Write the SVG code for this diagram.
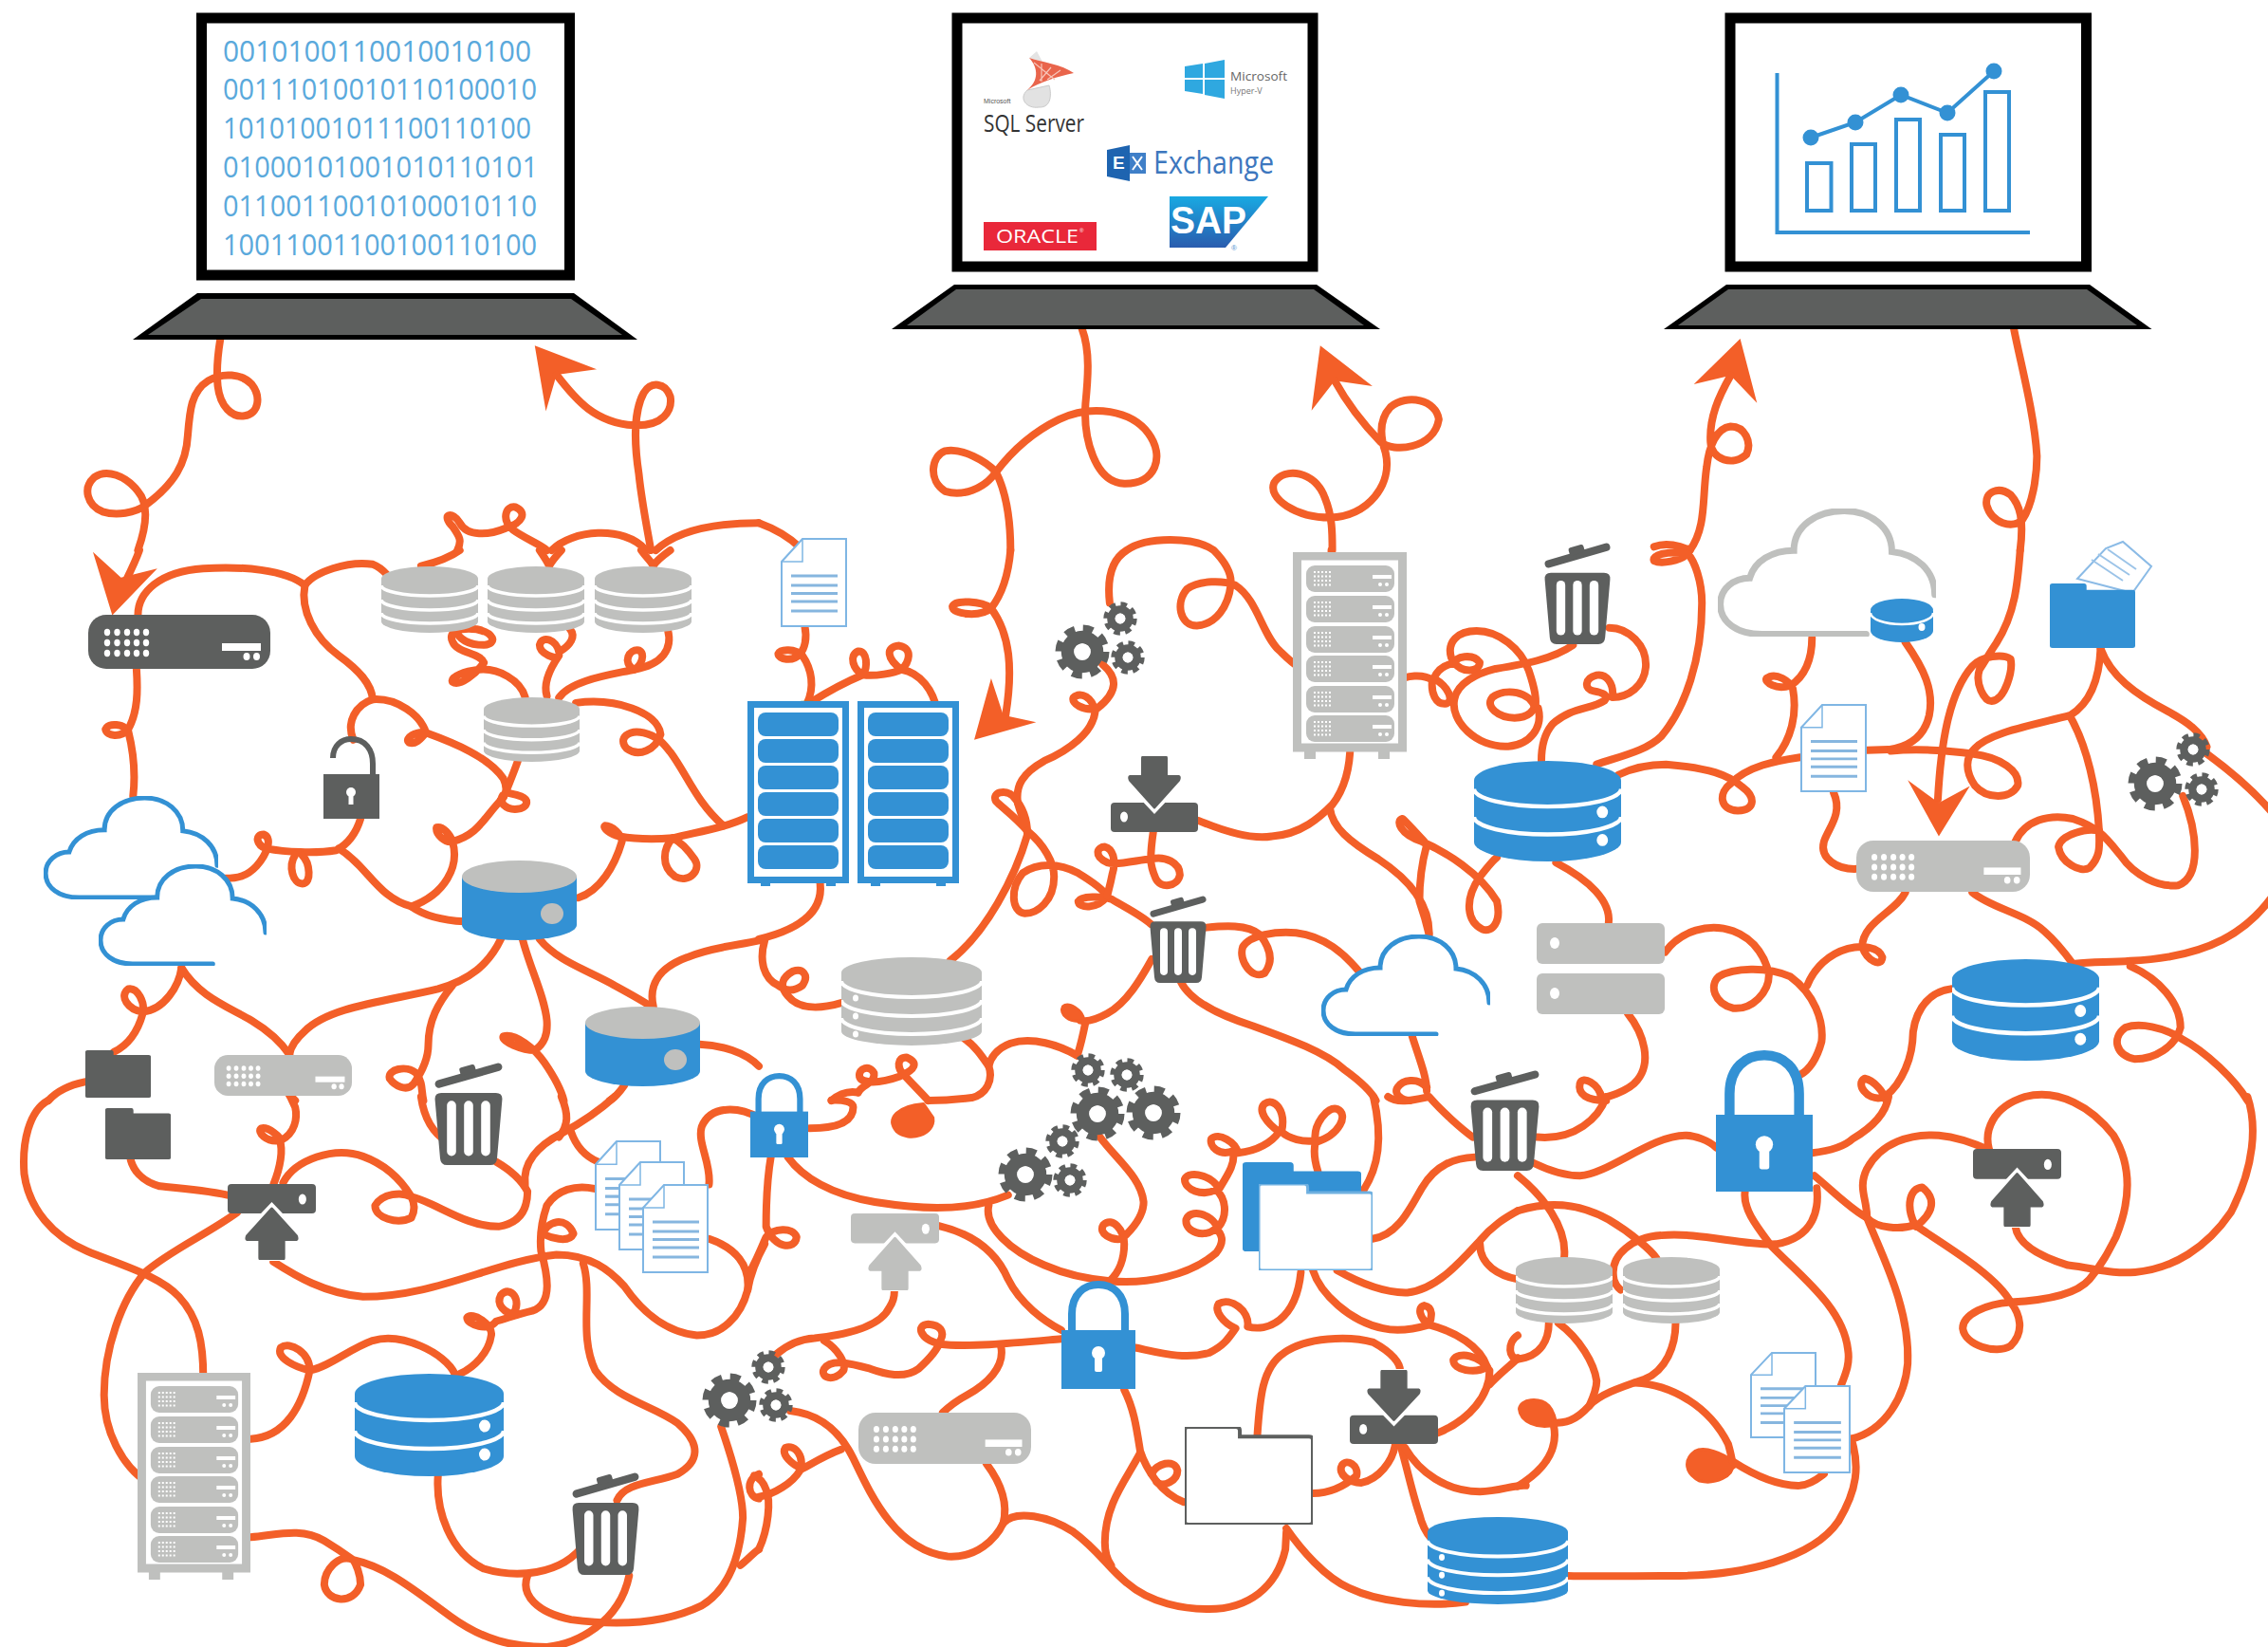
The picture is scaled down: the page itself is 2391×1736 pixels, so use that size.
<svg xmlns="http://www.w3.org/2000/svg" width="2391" height="1736" viewBox="0 0 2391 1736">
<style>
.blue{color:#3391d4;fill:#3391d4}.gray{color:#bfc0be;fill:#bfc0be}.dark{color:#5d5f5e;fill:#5d5f5e}
.c path{fill:none;stroke:#f35f28;stroke-width:8;vector-effect:non-scaling-stroke;stroke-linecap:round;stroke-linejoin:round}
.c polygon,.c path.f{fill:#f35f28;stroke:none}
.c path.f{stroke:#f35f28;stroke-width:3}
.ns{vector-effect:non-scaling-stroke}
.bin{font:31px "Open Sans","Liberation Sans",sans-serif;fill:#5aa9dc}
.scr{fill:#fff;stroke:#000;stroke-width:11}
.cl{fill:#fff;stroke:#3391d4;stroke-width:5;stroke-linecap:round}
.ln{stroke:#3391d4;stroke-width:4;fill:none}
</style>
<defs>
<symbol id="switch" viewBox="0 0 192 57" preserveAspectRatio="none"><rect width="192" height="57" rx="19" fill="currentColor"/><g fill="#fff"><ellipse cx="20" cy="18.500" rx="3.200" ry="3.700"/><ellipse cx="30.500" cy="18.500" rx="3.200" ry="3.700"/><ellipse cx="41" cy="18.500" rx="3.200" ry="3.700"/><ellipse cx="51" cy="18.500" rx="3.200" ry="3.700"/><ellipse cx="61" cy="18.500" rx="3.200" ry="3.700"/><ellipse cx="20" cy="29.500" rx="3.200" ry="3.700"/><ellipse cx="30.500" cy="29.500" rx="3.200" ry="3.700"/><ellipse cx="41" cy="29.500" rx="3.200" ry="3.700"/><ellipse cx="51" cy="29.500" rx="3.200" ry="3.700"/><ellipse cx="61" cy="29.500" rx="3.200" ry="3.700"/><ellipse cx="20" cy="40.500" rx="3.200" ry="3.700"/><ellipse cx="30.500" cy="40.500" rx="3.200" ry="3.700"/><ellipse cx="41" cy="40.500" rx="3.200" ry="3.700"/><ellipse cx="51" cy="40.500" rx="3.200" ry="3.700"/><ellipse cx="61" cy="40.500" rx="3.200" ry="3.700"/><rect x="141" y="30" width="41" height="8"/><ellipse cx="167" cy="44" rx="3.500" ry="4"/><ellipse cx="177.500" cy="44" rx="3.500" ry="4"/></g></symbol>
<symbol id="db4" viewBox="0 0 102 70" preserveAspectRatio="none"><path d="M0 13A51 13 0 0 1 102 13V58A51 12 0 0 1 0 58Z" fill="currentColor"/><path d="M0 20A51 11 0 0 0 102 20M0 35A51 11 0 0 0 102 35M0 49A51 11 0 0 0 102 49" fill="none" stroke="#fff" stroke-width="3.500"/></symbol>
<symbol id="db4big" viewBox="0 0 148 93" preserveAspectRatio="none"><path d="M0 16A74 16 0 0 1 148 16V78A74 15 0 0 1 0 78Z" fill="currentColor"/><path d="M0 25A74 17 0 0 0 148 25M0 45A74 17 0 0 0 148 45M0 64A74 17 0 0 0 148 64" fill="none" stroke="#fff" stroke-width="4"/><ellipse cx="15" cy="43" rx="3" ry="3.500" fill="#fff"/><ellipse cx="15" cy="62" rx="3" ry="3.500" fill="#fff"/><ellipse cx="15" cy="81" rx="3" ry="3.500" fill="#fff"/></symbol>
<symbol id="db3" viewBox="0 0 157 108" preserveAspectRatio="none"><path d="M0 21A78.500 21 0 0 1 157 21V87A78.500 21 0 0 1 0 87Z" fill="currentColor"/><path d="M0 30A78.500 19 0 0 0 157 30M0 60A78.500 19 0 0 0 157 60" fill="none" stroke="#fff" stroke-width="4.500"/><ellipse cx="137" cy="55" rx="6" ry="6.500" fill="#fff"/><ellipse cx="137" cy="85" rx="6" ry="6.500" fill="#fff"/></symbol>
<symbol id="cyl" viewBox="0 0 121 84" preserveAspectRatio="none"><path d="M0 17V68A60.500 16 0 0 0 121 68V17Z" fill="#3391d4"/><ellipse cx="60.500" cy="17" rx="60.500" ry="17" fill="#bfc0be"/><ellipse cx="95" cy="56" rx="12" ry="11" fill="#bfc0be"/></symbol>
<symbol id="rack" viewBox="0 0 120 218" preserveAspectRatio="none"><rect x="12" y="207" width="12" height="11" fill="currentColor"/><rect x="90" y="207" width="12" height="11" fill="currentColor"/><rect x="4.500" y="4" width="111" height="202" fill="#fff" stroke="currentColor" stroke-width="9"/><g id="ru"><rect x="14" y="14" width="93" height="28" rx="9" fill="currentColor"/><path d="M22 21h20M22 25.500h20M22 30h20M22 34.500h20" stroke="#fff" stroke-width="2" stroke-dasharray="2 2"/><rect x="84" y="24" width="20" height="4" fill="#fff"/><circle cx="92" cy="34" r="2" fill="#fff"/><circle cx="99" cy="34" r="2" fill="#fff"/></g><use href="#ru" y="32"/><use href="#ru" y="64"/><use href="#ru" y="95"/><use href="#ru" y="127"/><use href="#ru" y="158"/></symbol>
<symbol id="rackb" viewBox="0 0 107 195" preserveAspectRatio="none"><rect x="14" y="188" width="10" height="7" fill="currentColor"/><rect x="83" y="188" width="10" height="7" fill="currentColor"/><rect x="3.500" y="3.500" width="100" height="185" fill="#fff" stroke="currentColor" stroke-width="7"/><rect x="11" y="12" width="85" height="25" rx="8" fill="currentColor"/><rect x="11" y="40" width="85" height="25" rx="8" fill="currentColor"/><rect x="11" y="68" width="85" height="25" rx="8" fill="currentColor"/><rect x="11" y="96" width="85" height="25" rx="8" fill="currentColor"/><rect x="11" y="124" width="85" height="25" rx="8" fill="currentColor"/><rect x="11" y="152" width="85" height="25" rx="8" fill="currentColor"/></symbol>
<symbol id="trash" viewBox="0 0 60 91" preserveAspectRatio="none"><path d="M4 19 56 4" stroke="currentColor" stroke-width="7" stroke-linecap="round" fill="none"/><rect x="22" y="3" width="14" height="7" rx="2" transform="rotate(-16 29 6)" fill="currentColor"/><path d="M6 27H54Q60 27 59.500 33L55 85Q54.500 91 49 91H11Q5.500 91 5 85L.5 33Q0 27 6 27Z" fill="currentColor"/><rect x="11" y="34" width="8" height="49" rx="4" fill="#fff"/><rect x="26" y="34" width="8" height="49" rx="4" fill="#fff"/><rect x="41" y="34" width="8" height="49" rx="4" fill="#fff"/></symbol>
<symbol id="lock" viewBox="0 0 78 114" preserveAspectRatio="none"><path d="M11 54V35C11 14 24 4 39 4C54 4 67 14 67 35V54" fill="none" stroke="currentColor" stroke-width="8"/><rect y="52" width="78" height="62" fill="currentColor"/><circle cx="39" cy="76" r="7" fill="#fff"/><rect x="35" y="76" width="8" height="20" rx="2" fill="#fff"/></symbol>
<symbol id="imp" viewBox="0 0 92 81" preserveAspectRatio="none"><rect y="50" width="92" height="31" rx="4" fill="currentColor"/><path d="M46 62 14 28V21H30V0H62V21H78V28Z" fill="#fff"/><path d="M33 1H59Q60 1 60 3V21H72Q75 22 73 27L47 56Q46 57 45 56L19 27Q17 22 20 21H32V3Q32 1 33 1Z" fill="currentColor"/><ellipse cx="14" cy="65" rx="4" ry="5.500" fill="#fff"/></symbol>
<symbol id="gear" viewBox="-30 -30 60 60"><circle r="25" fill="none" stroke="currentColor" stroke-width="9" stroke-dasharray="10.800 8.835"/><circle r="16" fill="#fff" stroke="currentColor" stroke-width="14"/><circle r="9" fill="#fff"/></symbol>
<symbol id="folder" viewBox="0 0 100 100" preserveAspectRatio="none"><path class="ns" d="M0 3Q0 0 3 0H40Q43 0 43 4V10H97Q100 10 100 13V97Q100 100 97 100H3Q0 100 0 97Z"/></symbol>
<symbol id="doc" viewBox="0 0 70 94" preserveAspectRatio="none"><path d="M23 1H69V93H1V25Z" fill="#fff" stroke="#7fb6e4" stroke-width="2"/><path d="M23 1V25H1" fill="none" stroke="#7fb6e4" stroke-width="1.500"/><path d="M11 40H60M11 50H60M11 58.500H60M11 67H60M11 77H60" stroke="#86b6df" stroke-width="3"/></symbol>
<symbol id="box2" viewBox="0 0 135 43" preserveAspectRatio="none"><rect width="135" height="43" rx="6" fill="currentColor"/><ellipse cx="19" cy="21" rx="5" ry="6" fill="#fff"/></symbol>
<symbol id="cloud" viewBox="0 0 178 107" preserveAspectRatio="none"><path class="ns" d="M121 105H36C16 105 2 95 2 80C2 67 13 58 26 58C30 44 44 35 62 35C62 15 80 2 103 2C125 2 142 16 142 36C162 38 177 52 177 72"/></symbol>
<linearGradient id="sg" x1="0" y1="0" x2="0" y2="1"><stop offset="0" stop-color="#19a9e2"/><stop offset="1" stop-color="#2a5cae"/></linearGradient>
</defs>
<rect width="2391" height="1736" fill="#fff"/>
<g id="connectors" class="c">
<g transform="translate(0 0) scale(.5102 .3699)">
<path d="M455,968 C450,1010 447,1060 450,1100 C455,1160 480,1190 505,1185 C535,1180 540,1130 520,1095 C500,1065 460,1060 430,1085 C395,1115 392,1170 388,1240 C385,1320 360,1380 300,1440 C280,1462 240,1470 212,1458 C180,1440 170,1390 195,1360 C220,1335 260,1355 285,1400 C310,1440 300,1510 285,1568"/>
<polygon points="1105,985 1233,1052 1150,1068 1128,1172"/>
<path d="M1150,1068 C1190,1140 1230,1205 1310,1212 C1370,1215 1390,1170 1385,1130 C1375,1090 1345,1085 1330,1120 C1310,1170 1310,1260 1320,1350 C1325,1420 1335,1490 1345,1568"/>
<path d="M945,1568 C955,1540 950,1530 935,1500 C910,1465 935,1455 950,1490 C965,1530 1010,1525 1045,1505 C1080,1490 1090,1460 1065,1445 C1045,1440 1035,1480 1060,1510 C1085,1535 1115,1550 1130,1568"/>
<path d="M1140,1568 C1180,1510 1290,1495 1335,1568"/>
<path d="M1355,1568 C1400,1510 1480,1490 1568,1490"/>
</g>
<g transform="translate(800 0) scale(.5102 .3699)">
<path d="M0,1490 C40,1510 70,1540 85,1560"/>
<path d="M668,938 C685,1000 680,1080 675,1150 C670,1250 695,1375 755,1378 C820,1380 840,1300 805,1235 C770,1170 690,1150 620,1195 C560,1235 520,1290 490,1345 C465,1395 420,1415 385,1400 C350,1370 355,1300 385,1285 C420,1275 470,1315 490,1345 C510,1400 520,1470 520,1568"/>
<polygon points="1160,985 1268,1100 1190,1085 1142,1170"/>
<path d="M1190,1085 C1220,1160 1250,1210 1285,1260 C1310,1290 1395,1280 1405,1195 C1400,1140 1340,1120 1305,1160 C1285,1190 1280,1230 1295,1290 C1310,1380 1260,1470 1180,1475 C1110,1475 1050,1420 1065,1375 C1085,1330 1150,1340 1170,1420 C1185,1470 1185,1520 1185,1568"/>
</g>
<g transform="translate(1600 0) scale(.5045 .3699)">
<polygon points="465,965 500,1148 445,1070 368,1095"/>
<path d="M445,1070 C420,1130 400,1190 403,1260 C405,1310 450,1330 478,1295 C490,1260 475,1215 445,1215 C415,1220 400,1270 395,1330 C385,1420 395,1500 360,1568"/>
<path d="M360,1568 C340,1555 310,1545 285,1558"/>
<path d="M1037,938 C1050,1030 1080,1180 1085,1300 C1085,1360 1075,1440 1055,1480 C1035,1510 990,1490 980,1440 C975,1400 1005,1385 1030,1410 C1050,1440 1058,1480 1050,1568"/>
</g>
<g transform="translate(0 580) scale(.5102 .3699)">
<path d="M288,0 C278,40 262,80 245,130"/>
<polygon points="232,185 192,5 250,78 325,52"/>
<path d="M870,45 C900,35 930,20 950,0"/>
<path d="M1115,0 C1125,20 1130,30 1135,45 C1140,30 1150,15 1160,0"/>
<path d="M1325,0 C1335,20 1345,30 1350,45 C1355,30 1370,15 1385,0"/>
<path d="M285,185 C285,120 330,60 420,52 C500,45 590,55 630,100 C650,60 720,30 770,40 C780,45 790,55 800,70"/>
<path d="M630,100 C620,170 650,250 700,300 C740,340 768,380 770,425"/>
<path d="M730,540 C715,490 735,440 770,425 C820,420 870,470 880,520"/>
<path d="M880,520 C860,515 835,535 845,548 C860,555 870,535 880,520 C940,550 1010,590 1040,650 C1050,680 1045,700 1035,710"/>
<path d="M1070,600 C1060,640 1050,670 1045,690 C1060,695 1090,700 1088,720 C1085,740 1055,745 1040,725 C1030,700 1045,690 1040,705 C1000,760 990,810 935,830 C920,835 900,810 902,790 C915,785 930,810 935,830 C950,900 920,980 850,1015"/>
<path d="M700,850 C760,900 780,990 850,1015 C880,1045 920,1055 960,1058"/>
<path d="M745,765 C735,810 715,840 695,855 C650,865 590,860 550,850 C530,840 525,810 545,810 C565,820 550,870 530,900 C510,930 490,935 465,935"/>
<path d="M610,868 C595,900 605,950 625,950 C645,950 640,890 625,870"/>
<path d="M1085,418 C1075,370 1030,335 990,340 C960,345 930,360 935,375 C950,390 985,350 1000,320 C990,290 945,295 935,260 C925,230 950,220 985,225 C1020,235 1030,265 1000,270 C975,270 950,260 940,225"/>
<path d="M1130,415 C1120,370 1145,320 1155,300 C1150,315 1115,295 1115,270 C1120,240 1150,255 1155,290 C1180,270 1190,245 1178,225"/>
<path d="M1155,420 C1180,370 1260,355 1310,340 C1370,325 1390,280 1380,228"/>
<path d="M1310,340 C1285,320 1300,280 1320,285 C1335,295 1325,330 1310,340"/>
<path d="M1190,435 C1270,420 1360,460 1365,525 C1355,570 1320,590 1295,565 C1275,535 1300,510 1330,520 C1360,530 1370,550 1385,575 C1420,640 1440,720 1495,785"/>
<path d="M1545,760 C1500,790 1450,800 1390,820 C1340,825 1300,820 1280,815 C1260,810 1245,790 1250,785 C1265,785 1285,810 1285,830 C1270,900 1240,970 1195,990"/>
<path d="M1390,820 C1370,850 1365,900 1395,930 C1425,950 1450,910 1435,880 C1420,850 1405,830 1390,820"/>
<path d="M1035,1108 C1010,1180 970,1225 905,1250 C800,1285 680,1300 630,1370 C605,1400 600,1420 598,1437"/>
<path d="M375,1190 C410,1270 470,1300 520,1340 C550,1365 580,1400 598,1437"/>
<path d="M375,1190 C370,1240 340,1310 295,1315 C265,1310 245,1270 265,1250 C285,1245 300,1290 295,1320 C285,1370 265,1410 235,1430"/>
<path d="M935,1240 C905,1290 885,1340 885,1410 C885,1450 870,1490 855,1520 C840,1545 815,1525 805,1505 C800,1480 840,1465 860,1490 C875,1520 870,1540 875,1568"/>
<path d="M1080,1110 C1095,1190 1125,1270 1130,1340 C1132,1380 1125,1405 1105,1425 C1080,1425 1035,1400 1040,1385 C1065,1375 1105,1420 1125,1460 C1145,1500 1160,1540 1165,1568"/>
<path d="M1115,1108 C1150,1170 1220,1200 1270,1240 C1310,1270 1335,1290 1345,1300"/>
<path d="M1350,1300 C1340,1240 1360,1190 1420,1160 C1470,1130 1530,1125 1568,1112"/>
<path d="M1445,1408 C1490,1410 1540,1430 1568,1470"/>
<path d="M1290,1525 C1280,1545 1270,1560 1260,1568"/>
<path d="M282,338 C285,400 285,460 265,510 C250,535 220,530 218,510 C225,490 255,495 265,515 C275,570 280,640 275,700"/>
<path d="M175,1515 C140,1525 115,1545 100,1568"/>
<path d="M598,1553 C605,1560 608,1565 610,1568"/>
</g>
<g transform="translate(800 580) scale(.5102 .3699)">
<path d="M520,0 C515,80 500,130 480,165 C460,190 400,185 400,160 C405,140 460,145 480,165 C520,240 525,340 510,470"/>
<polygon points="445,540 480,365 505,470 573,490"/>
<path d="M1183,0 V25"/>
<path d="M725,150 C720,90 725,30 760,0 C800,-40 900,-40 940,0 C965,35 978,70 975,100 C970,160 945,210 905,215 C870,215 860,150 885,110 C910,85 960,85 985,100 C1030,140 1040,240 1075,285 C1090,305 1100,320 1115,332"/>
<path d="M710,325 C740,360 745,400 700,450 C670,460 645,435 650,420 C665,400 690,420 695,460 C690,520 640,570 590,600 C545,635 530,670 535,720"/>
<path d="M535,720 C540,750 555,790 555,810 C530,930 470,1090 395,1170"/>
<path d="M555,800 C530,760 500,730 490,715 C480,690 510,680 525,700 C545,730 555,770 555,810"/>
<path d="M555,800 C590,840 610,890 610,930 C610,1000 575,1035 550,1035 C520,1030 520,960 545,920 C575,890 620,890 660,920 C690,945 710,965 720,985 C700,1025 660,1020 660,1000 C665,985 710,985 730,995 C760,1020 790,1040 810,1065"/>
<path d="M815,802 C812,830 810,855 810,880 C790,880 740,900 720,890 C690,870 700,845 715,845 C730,850 740,880 730,925 C725,960 722,970 720,985"/>
<path d="M810,880 C840,870 870,890 870,925 C865,960 830,965 820,935 C812,910 810,895 810,880"/>
<path d="M925,1075 C960,1070 1010,1065 1035,1095 C1055,1130 1065,1170 1045,1205 C1020,1225 990,1170 1000,1130 C1015,1095 1070,1085 1110,1090 C1170,1100 1210,1150 1240,1200"/>
<path d="M872,1230 C890,1280 940,1320 1020,1355 C1100,1395 1170,1430 1210,1480 C1240,1510 1265,1540 1275,1568"/>
<path d="M812,1165 C790,1220 760,1290 720,1320 C700,1335 680,1345 665,1340"/>
<path class="f" d="M672,1340 C640,1350 620,1320 628,1300 C640,1285 670,1310 672,1340 Z"/>
<path d="M675,1345 C670,1380 665,1410 658,1440"/>
<path d="M658,1440 C620,1410 565,1385 520,1405 C490,1420 478,1450 475,1470 C460,1440 445,1410 425,1392"/>
<path d="M475,1470 C485,1510 470,1550 440,1560 C410,1565 380,1568 350,1568"/>
<path d="M205,1545 C215,1520 240,1520 238,1490 C230,1465 205,1475 208,1500 C212,1520 250,1520 290,1500 C325,1480 330,1460 305,1445 C285,1445 285,1475 300,1495 C320,1525 335,1545 350,1568"/>
<path d="M150,1568 C165,1550 185,1540 205,1545"/>
<path d="M125,935 C135,1000 115,1070 0,1108"/>
<path d="M12,1112 C0,1170 10,1220 40,1240 C55,1255 70,1260 90,1240 C105,1210 90,1190 70,1200 C50,1215 40,1240 60,1270 C80,1305 120,1310 170,1290"/>
<path d="M95,218 C100,250 95,280 85,295 C70,320 40,310 40,295 C45,280 75,280 90,300 C110,340 115,390 100,435"/>
<path d="M105,435 C140,405 180,375 215,355 C195,340 185,300 205,288 C225,285 225,335 215,355 C240,360 280,350 295,340 C265,310 260,275 290,272 C320,280 310,320 295,340 C335,350 360,400 368,455"/>
<path d="M1385,1090 C1385,1000 1335,930 1280,880 C1220,830 1185,790 1180,735"/>
<path d="M908,770 C960,800 1020,825 1060,815 C1120,810 1160,760 1185,725 C1210,680 1222,620 1222,550"/>
<path d="M1375,830 C1355,800 1335,770 1330,765 C1315,770 1325,810 1370,830 C1420,860 1490,920 1525,1000 C1535,1060 1515,1090 1495,1080 C1465,1060 1455,1000 1490,930 C1505,905 1515,885 1525,875"/>
<path d="M1380,840 C1370,890 1365,950 1365,1000 C1375,1040 1380,1065 1385,1095"/>
<path d="M1350,1385 C1365,1450 1380,1500 1380,1540"/>
<path d="M1380,1530 C1360,1500 1330,1510 1320,1530 C1310,1550 1330,1568 1345,1568"/>
<path style="stroke:#6b8f3f;stroke-width:5" d="M88,436H112M358,436V452M120,926V936"/>
</g>
<g id="tangle" transform="translate(1470 620) scale(.3333)">
<path d="M0,295 C40,275 90,270 120,290 C115,330 130,370 165,365 C190,355 170,310 125,285 C140,250 170,240 190,238"/>
<path d="M185,240 C190,215 250,205 270,235 C270,265 215,270 190,235"/>
<path d="M180,220 C165,170 200,135 260,135 C330,135 400,190 425,260 C445,320 450,350 445,380"/>
<path d="M445,380 C430,325 350,315 310,345 C285,375 330,410 380,410 C420,410 450,390 445,350"/>
<path d="M565,180 C500,225 410,240 320,255 C260,270 200,300 190,350 C175,420 260,505 360,500 C430,495 470,440 455,380"/>
<path d="M680,125 C740,125 800,180 795,250 C790,310 740,345 690,345 C695,300 670,270 640,275 C600,285 600,320 630,325 C660,330 680,340 665,355 C620,385 560,375 500,430 C470,465 465,510 465,545"/>
</g>
<g transform="translate(1600 580) scale(.5045 .3699)">
<path d="M165,610 C220,585 270,570 300,530 C350,450 385,310 385,150 C385,90 370,30 355,10"/>
<path d="M355,10 C340,30 300,40 285,30 C280,15 310,0 355,10"/>
<path d="M1050,0 C1045,90 1040,180 1000,265 C985,295 975,320 965,340 C955,380 975,430 990,430 C1020,425 1035,340 1030,310 C1015,295 970,300 950,330 C905,400 885,530 878,710"/>
<polygon points="880,815 815,655 880,720 945,672"/>
<path d="M615,250 C615,310 600,360 570,385 C540,400 515,375 520,365 C540,345 570,375 575,395 C585,470 570,540 540,590"/>
<path d="M590,590 C540,600 480,615 445,665 C420,690 420,740 460,742 C500,740 495,700 470,675 C440,640 400,620 310,610 C270,610 240,620 210,640"/>
<path d="M810,262 C850,340 870,400 860,470 C850,530 820,560 775,568 L730,570"/>
<path d="M780,572 C830,565 900,570 950,580 C1010,590 1050,630 1045,670 C1030,710 980,710 955,670 C935,630 935,590 955,565 C985,520 1070,500 1155,470 C1190,440 1215,380 1218,280"/>
<path d="M1218,280 C1240,360 1290,410 1360,460 C1400,490 1430,520 1440,560"/>
<path d="M1155,475 C1190,560 1210,680 1215,800"/>
<path d="M1440,580 C1490,630 1550,700 1590,770"/>
<path d="M1590,960 C1530,1090 1440,1160 1280,1170 C1240,1175 1200,1172 1165,1178"/>
<path d="M1040,830 C1060,770 1110,750 1160,765 C1215,790 1230,820 1260,870 C1290,930 1340,960 1380,955 C1430,930 1420,800 1390,700"/>
<path d="M1215,800 C1190,790 1135,810 1130,845 C1135,890 1175,920 1195,905 C1220,870 1215,840 1215,800"/>
<path d="M660,690 C680,750 650,790 640,830 C630,880 670,910 708,908"/>
<path d="M810,975 C790,1030 720,1060 720,1130 C730,1170 760,1190 762,1160 C755,1130 720,1125 690,1135 C650,1150 620,1190 605,1240"/>
<path d="M950,975 C990,1020 1060,1035 1100,1085 C1125,1115 1145,1150 1160,1178"/>
<path d="M190,1062 C195,1000 150,940 80,890"/>
<path d="M308,1145 C340,1085 400,1060 450,1085 C500,1110 520,1170 525,1210 C525,1260 490,1310 450,1305 C410,1290 400,1240 420,1215 C450,1190 520,1185 570,1215 C620,1265 640,1340 635,1400 C625,1450 610,1480 590,1495"/>
<path d="M230,1320 C265,1380 280,1460 250,1510 C230,1545 180,1560 175,1560 C170,1520 135,1495 130,1520 C125,1550 145,1568 185,1568"/>
<path d="M905,1250 C850,1260 825,1330 825,1400 C820,1470 790,1545 760,1560 C730,1568 705,1520 725,1505 C745,1510 765,1545 770,1568"/>
<path d="M1280,1185 C1340,1220 1385,1290 1385,1360 C1375,1415 1330,1450 1290,1450 C1250,1440 1240,1390 1270,1360 C1300,1345 1350,1360 1385,1390 C1440,1430 1500,1510 1525,1568"/>
</g>
<g transform="translate(0 1156) scale(.5102 .3699)">
<path d="M100,10 C60,40 45,130 50,220 C60,320 110,400 180,440 C250,480 330,510 370,570 C410,630 420,700 420,800"/>
<path d="M470,280 C420,265 370,260 330,255 C290,240 275,205 270,180"/>
<path d="M490,330 C430,390 350,440 300,500 C250,580 215,720 215,850 C215,950 250,1050 305,1100"/>
<path d="M585,245 C610,180 690,140 750,170 C800,195 830,240 850,285 C830,270 790,275 775,310 C775,345 820,365 850,345 C860,320 855,300 850,285 C900,300 960,370 1030,370 C1075,360 1090,320 1090,270 C1075,230 1050,205 1025,185"/>
<path d="M565,250 C580,200 585,150 578,125 C550,130 530,100 540,90 C555,85 580,115 580,125 C610,105 615,60 610,30 L600,0"/>
<path d="M925,130 C890,100 875,50 870,0"/>
<path d="M1270,0 C1230,50 1180,90 1160,105 C1110,140 1080,190 1085,250"/>
<path d="M1160,0 C1175,50 1175,80 1155,115"/>
<path d="M1180,100 C1190,140 1210,170 1235,185"/>
<path d="M1228,262 C1190,250 1150,265 1130,310 C1120,350 1115,400 1118,440 C1130,500 1145,590 1100,610 C1070,620 1050,630 1025,640 C1010,670 965,650 965,630 C975,610 1020,650 1015,680 C1010,730 980,770 950,790"/>
<path d="M1070,620 C1040,620 1025,590 1035,565 C1055,535 1080,580 1060,620"/>
<path d="M1118,400 C1130,350 1170,340 1185,390 C1175,420 1135,400 1120,390"/>
<path d="M565,470 C610,510 670,560 750,570 C900,570 1020,470 1150,450 C1220,450 1260,495 1290,540 C1320,600 1370,670 1440,680 C1490,680 1530,630 1545,550 C1550,480 1520,430 1465,405"/>
<path d="M1545,550 C1550,510 1560,470 1580,420"/>
<path d="M1205,475 C1225,560 1195,680 1230,780 C1270,860 1350,880 1400,930 C1450,990 1445,1040 1400,1075 C1350,1100 1290,1100 1275,1150"/>
<path d="M518,975 C590,970 625,880 640,780 C610,770 570,745 580,715 C600,695 640,730 640,780 C680,770 720,720 770,695 C830,670 920,730 940,790"/>
<path d="M518,1255 C570,1250 620,1225 670,1265 C700,1290 720,1310 730,1320 C700,1300 670,1350 670,1390 C675,1440 730,1450 745,1390 C745,1360 735,1330 730,1320 C800,1340 860,1410 930,1480 C1000,1550 1060,1568 1130,1568"/>
<path d="M1130,1568 C1190,1560 1280,1500 1300,1365"/>
<path d="M905,1080 C900,1180 930,1300 1000,1345 C1060,1370 1160,1370 1210,1270"/>
<path d="M1090,1365 C1075,1420 1110,1470 1180,1490 C1260,1505 1360,1510 1450,1450 C1510,1400 1530,1300 1535,1200 C1535,1130 1510,1020 1490,940"/>
<path d="M1568,1145 C1545,1140 1540,1090 1568,1075"/>
<path d="M1530,1335 C1545,1320 1560,1295 1568,1290"/>
<path d="M1568,60 C1530,30 1470,20 1450,85 C1440,130 1470,190 1465,250"/>
</g>
<g transform="translate(800 1156) scale(.5102 .3699)">
<path d="M105,90 C150,90 195,80 195,30 C195,15 175,8 150,10"/>
<path class="f" d="M360,60 C365,110 310,130 285,100 C260,60 290,25 340,20 Z"/>
<path d="M25,170 C15,250 15,340 15,370 C30,430 75,440 78,400 C70,370 30,375 15,400 C5,430 0,450 -15,490"/>
<path d="M60,172 C90,230 150,280 240,300 C310,315 420,335 515,280"/>
<path d="M475,310 C465,370 520,440 590,480 C640,510 680,520 725,525"/>
<path d="M725,525 C800,535 890,510 945,445 C965,410 955,390 945,375 C920,405 880,385 883,350 C890,320 935,330 948,375 C970,340 965,290 945,265 C915,285 880,265 880,235 C890,205 945,230 950,265 C970,220 985,190 980,155 C950,170 930,140 935,120 C950,100 985,130 990,160 C1030,155 1060,130 1075,100 C1050,75 1030,40 1045,20 C1065,0 1090,40 1080,100 C1095,120 1125,130 1150,125 C1145,80 1175,25 1195,35 C1220,50 1200,110 1150,130 C1145,160 1150,190 1155,212"/>
<path d="M705,115 C740,180 790,230 795,300 C795,340 770,380 750,405 C730,410 700,390 712,365 C730,340 755,380 755,420 C755,460 745,500 725,525"/>
<path d="M1250,265 C1280,200 1290,120 1270,0"/>
<path d="M1268,405 C1320,395 1345,320 1370,260 C1400,190 1440,175 1480,172"/>
<path d="M1195,495 C1240,530 1290,560 1340,558 C1400,550 1450,470 1490,410 C1520,360 1550,340 1568,325"/>
<path d="M1490,420 C1490,480 1530,510 1568,520"/>
<path d="M1145,495 C1160,560 1220,640 1290,660 C1320,670 1360,660 1385,650 C1365,630 1360,600 1375,595 C1395,600 1390,630 1385,650 C1440,670 1490,710 1505,770"/>
<path d="M1505,770 C1480,790 1435,780 1435,750 C1445,725 1490,735 1510,780 C1510,850 1470,920 1403,958"/>
<path d="M1510,820 C1530,790 1550,770 1568,745"/>
<path d="M1568,680 C1545,700 1550,750 1568,745"/>
<path d="M778,715 C830,730 880,750 930,730 C960,710 970,690 985,660 C960,645 940,610 950,590 C975,570 1015,610 1010,655 C1050,670 1110,640 1120,500"/>
<path d="M35,735 C60,705 90,690 115,688 C170,680 250,660 270,600 C280,580 280,565 280,555"/>
<path d="M135,695 C165,720 180,760 175,780 C155,815 125,800 135,775 C150,745 190,760 230,775 C260,790 300,805 330,775 C350,750 370,720 375,695 C385,670 375,650 350,648 C325,650 330,690 375,705 C430,715 540,700 625,690"/>
<path d="M500,710 C510,770 470,820 430,850 C410,865 395,880 380,900"/>
<path d="M372,368 C440,390 490,440 515,520 C540,590 590,640 625,665"/>
<path d="M755,835 C775,890 780,940 788,1010 C800,1060 830,1130 878,1155"/>
<path d="M812,1075 C820,1045 860,1030 865,1065 C865,1095 835,1115 822,1098"/>
<path d="M788,1015 C760,1090 715,1160 715,1270 C715,1300 720,1320 728,1335"/>
<path d="M65,895 C130,905 170,960 195,1030 C230,1130 280,1290 390,1310 C450,1315 490,1260 505,1215 C530,1175 600,1195 650,1240 C700,1290 720,1340 760,1385 C810,1445 880,1460 930,1460 C1010,1460 1070,1400 1088,1290 L1090,1240"/>
<path d="M1090,1230 C1120,1290 1170,1370 1220,1400 C1280,1440 1380,1455 1460,1440"/>
<path d="M470,1045 C500,1100 515,1160 505,1215"/>
<path d="M170,1005 C140,1020 110,1045 90,1060 C70,1050 45,1020 55,1000 C75,990 95,1025 85,1065 C70,1100 30,1135 0,1140"/>
<path d="M1030,965 C1035,860 1040,770 1085,730 C1130,685 1220,680 1270,700 C1310,730 1325,760 1325,780"/>
<path d="M1145,1130 C1180,1130 1210,1110 1235,1080 C1240,1050 1215,1030 1205,1050 C1195,1075 1220,1100 1245,1100 C1280,1090 1310,1040 1315,990"/>
<path d="M1325,990 C1340,1060 1350,1130 1365,1190 C1370,1220 1380,1245 1390,1260"/>
<path d="M1335,1000 C1365,1070 1420,1125 1490,1125 C1530,1125 1560,1105 1585,1108"/>
<path d="M0,1290 C20,1230 25,1150 15,1120 C10,1100 0,1085 -10,1080"/>
<path d="M1300,0 C1320,20 1350,10 1385,0 C1410,40 1450,90 1475,115"/>
</g>
<g transform="translate(1600 1156) scale(.5045 .3699)">
<path d="M185,0 C170,60 120,125 40,115"/>
<path d="M775,0 C770,40 750,80 700,120 C680,145 650,155 615,160"/>
<path d="M1525,0 C1545,80 1540,200 1490,330 C1440,430 1370,490 1290,500 C1240,505 1210,490 1150,480 C1090,455 1045,420 1040,370"/>
<path d="M985,150 C975,100 990,30 1060,0 C1130,-25 1200,30 1245,110 C1285,200 1280,300 1250,400 C1235,440 1220,480 1195,520 C1170,560 1110,580 1030,585 C980,590 930,620 930,660 C935,710 1000,735 1030,710 C1060,670 1050,620 1030,585 C1000,510 900,430 835,370"/>
<path d="M832,370 C870,330 875,290 845,258 C820,260 810,310 830,365 C800,380 750,375 730,345"/>
<path d="M620,225 C660,270 695,320 730,345 C730,290 710,260 730,205 C760,130 820,105 880,110 C920,115 950,130 985,152"/>
<path d="M730,345 C760,450 820,600 815,760 C810,850 770,950 697,975"/>
<path d="M697,975 C715,1050 710,1120 670,1210 C620,1310 480,1370 300,1365 C220,1365 160,1368 105,1365"/>
<path d="M475,270 C470,320 500,370 530,425 C590,510 680,600 690,720 C695,760 685,790 675,825"/>
<path d="M625,260 C630,320 620,400 540,420 C470,425 380,385 300,395 C240,400 195,450 200,510 C200,530 210,545 215,550"/>
<path d="M0,325 C70,295 130,305 190,350 C240,390 280,440 290,460"/>
<path d="M0,225 C50,280 105,370 97,460"/>
<path d="M35,190 C65,210 95,225 130,225 C190,220 280,110 350,110 C370,110 400,125 415,145"/>
<path d="M330,645 C330,710 310,780 265,805 C210,830 170,850 150,880 C120,925 100,930 70,930"/>
<path class="f" d="M80,935 C40,950 5,925 3,890 C5,860 45,855 65,880 C75,895 80,920 80,935 Z"/>
<path d="M85,645 C130,690 160,760 165,810 C165,830 160,850 150,880"/>
<path d="M245,815 C320,820 400,880 440,990 C450,1040 448,1045 450,1050"/>
<path class="f" d="M450,1040 C455,1085 410,1105 380,1095 C350,1075 345,1035 370,1010 C390,995 430,1015 450,1040 Z"/>
<path d="M450,1040 C490,1075 540,1110 590,1108 C615,1105 630,1085 640,1075"/>
<path d="M75,935 C85,1000 60,1060 0,1110"/>
<path d="M65,645 C65,690 50,740 0,748"/>
</g>
</g>
<g id="laptop1"><rect class="scr" x="212.500" y="19" width="388" height="271"/><polygon points="208,309 605,309 672,358 140,358"/><polygon points="212,315 602,315 656,353 156,353" class="dark"/>
<text class="bin" x="235" y="65" textLength="325" lengthAdjust="spacingAndGlyphs">0010100110010010100</text>
<text class="bin" x="235" y="105" textLength="331" lengthAdjust="spacingAndGlyphs">00111010010110100010</text>
<text class="bin" x="235" y="146" textLength="325" lengthAdjust="spacingAndGlyphs">10101001011100110100</text>
<text class="bin" x="235" y="187" textLength="332" lengthAdjust="spacingAndGlyphs">01000101001010110101</text>
<text class="bin" x="235" y="228" textLength="331" lengthAdjust="spacingAndGlyphs">01100110010100010110</text>
<text class="bin" x="235" y="269" textLength="331" lengthAdjust="spacingAndGlyphs">10011001100100110100</text></g>
<g id="laptop2"><rect class="scr" x="1009" y="19" width="375" height="262"/><polygon points="1006,300 1388,300 1455,347 940,347"/><polygon points="1008,305 1385,305 1438,343 956,343" class="dark"/>
<g id="sql"><path d="M1085 61 1093 54 1100 67 1110 68Z" fill="#e4e4e4"/><path d="M1083 95C1073 104 1083 115 1095 113C1110 114 1108 96 1106 90Z" fill="#e2e2e2" stroke="#c9c9c9" stroke-width="1"/><path d="M1085 61C1097 65 1120 68 1132 77C1114 81 1097 86 1083 95C1095 85 1095 72 1085 61Z" fill="#e9654c"/><path d="M1090 66 1112 84M1098 67 1098 86M1108 71 1096 85M1118 74 1104 84" stroke="#f7c6ba" stroke-width="1.200"/><text x="1037" y="109" font-family="'Liberation Sans',sans-serif" font-size="7" fill="#555">Microsoft</text><text x="1037" y="139" font-family="'Open Sans',sans-serif" font-size="25" fill="#333" textLength="106" lengthAdjust="spacingAndGlyphs">SQL Server</text></g>
<g id="hyperv"><polygon points="1249,70 1268,67 1268,82 1249,82" fill="#2fa8e0"/><polygon points="1270,67 1291,63 1291,82 1270,82" fill="#2fa8e0"/><polygon points="1249,84 1268,84 1268,99 1249,96" fill="#2fa8e0"/><polygon points="1270,84 1291,84 1291,104 1270,100" fill="#2fa8e0"/><text x="1297" y="85" font-family="'Open Sans',sans-serif" font-size="13" fill="#666" textLength="60" lengthAdjust="spacingAndGlyphs">Microsoft</text><text x="1297" y="99" font-family="'Open Sans',sans-serif" font-size="9" fill="#777">Hyper-V</text></g>
<g id="exchange"><rect x="1190" y="161" width="18" height="22" fill="#3f7fc8"/><path d="M1194 165 1204 179M1204 165 1194 179" stroke="#fff" stroke-width="2"/><polygon points="1167,158 1191,153 1191,191 1167,186" fill="#1e64b0"/><text x="1173" y="178" font-family="'Liberation Sans',sans-serif" font-weight="bold" font-size="19" fill="#fff">E</text><text x="1216" y="183" font-family="'Open Sans',sans-serif" font-size="33" fill="#3d77be" textLength="127" lengthAdjust="spacingAndGlyphs">Exchange</text></g>
<g id="sap"><polygon points="1233,207 1337,207 1292,261 1233,261" fill="url(#sg)"/><text x="1234" y="246" font-family="'Liberation Sans',sans-serif" font-weight="bold" font-size="40" fill="#fff" textLength="80" lengthAdjust="spacingAndGlyphs">SAP</text><text x="1298" y="264" font-family="'Liberation Sans',sans-serif" font-size="8" fill="#4f8fd0">®</text></g>
<g id="oracle"><rect x="1037" y="234" width="119" height="30" fill="#e9283a"/><text x="1050" y="256" font-family="'Open Sans',sans-serif" font-size="20" fill="#fff" textLength="87" lengthAdjust="spacingAndGlyphs">ORACLE</text><text x="1138" y="245" font-family="'Liberation Sans',sans-serif" font-size="6" fill="#fff">®</text></g></g>
<g id="laptop3"><rect class="scr" x="1824" y="19" width="375.500" height="262"/><polygon points="1820,300 2203,300 2268.500,347 1754,347"/><polygon points="1822,305 2200,305 2253,343 1769,343" class="dark"/>
<path class="ln" d="M1873.500 77V245H2140"/><rect class="ln" x="1905" y="172" width="25.500" height="50"/><rect class="ln" x="1952" y="152" width="25" height="70"/><rect class="ln" x="1999" y="126" width="25" height="96"/><rect class="ln" x="2046" y="142" width="25" height="80"/><rect class="ln" x="2093" y="97" width="25" height="125"/><path class="ln" d="M1909 145 1956 129 2004 100 2053 119 2102 75"/><g fill="#3391d4"><circle cx="1909" cy="145" r="8.500"/><circle cx="1956" cy="129" r="8.500"/><circle cx="2004" cy="100" r="8.500"/><circle cx="2053" cy="119" r="8.500"/><circle cx="2102" cy="75" r="8.500"/></g></g>
<g id="switch1" class="dark"><use href="#switch" x="93" y="648" width="192" height="57"/></g>
<g id="switch2" class="gray"><use href="#switch" x="226" y="1112" width="145" height="43"/></g>
<g id="switch3" class="gray"><use href="#switch" x="1957" y="886" width="183" height="54"/></g>
<g id="switch4" class="gray"><use href="#switch" x="905" y="1489" width="182" height="54"/></g>
<g id="db-a" class="gray"><use href="#db4" x="402" y="597" width="102" height="70"/></g>
<g id="db-b" class="gray"><use href="#db4" x="514" y="597" width="102" height="70"/></g>
<g id="db-c" class="gray"><use href="#db4" x="627" y="597" width="102" height="70"/></g>
<g id="db-d" class="gray"><use href="#db4" x="510" y="735" width="101" height="68"/></g>
<g id="db-e" class="gray"><use href="#db4" x="1598" y="1325" width="102" height="70"/></g>
<g id="db-f" class="gray"><use href="#db4" x="1711" y="1325" width="102" height="70"/></g>
<g id="db-g" class="gray"><use href="#db4big" x="887" y="1009" width="148" height="93"/></g>
<g id="db-h" class="blue"><use href="#db4big" x="1505" y="1599" width="148" height="92"/></g>
<g id="db-i" class="blue"><use href="#db3" x="374" y="1448" width="157" height="108"/></g>
<g id="db-j" class="blue"><use href="#db3" x="1554" y="802" width="155" height="106"/></g>
<g id="db-k" class="blue"><use href="#db3" x="2058" y="1011" width="155" height="107"/></g>
<g id="cyl-a"><use href="#cyl" x="487" y="907" width="121" height="84"/></g>
<g id="cyl-b"><use href="#cyl" x="617" y="1061" width="121" height="84"/></g>
<g id="rack-a" class="gray"><use href="#rack" x="1363" y="582" width="120" height="218"/></g>
<g id="rack-b" class="gray"><use href="#rack" x="145" y="1447" width="119" height="218"/></g>
<g id="rack-c" class="blue"><use href="#rackb" x="788" y="739" width="107" height="195"/></g>
<g id="rack-d" class="blue"><use href="#rackb" x="904" y="739" width="107" height="195"/></g>
<g id="trash-a" class="dark"><use href="#trash" x="1212" y="944" width="60" height="92"/></g>
<g id="trash-b" class="dark"><use href="#trash" x="1628" y="572" width="70" height="107"/></g>
<g id="trash-c" class="dark"><use href="#trash" x="458" y="1120" width="72" height="108"/></g>
<g id="trash-d" class="dark"><use href="#trash" x="1550" y="1128" width="73" height="106"/></g>
<g id="trash-e" class="dark"><use href="#trash" x="603" y="1552" width="71" height="108"/></g>
<g id="lock-a" class="blue"><use href="#lock" x="1119" y="1350" width="78" height="114"/></g>
<g id="lock-b" class="blue"><use href="#lock" x="791" y="1131" width="61" height="89"/></g>
<g id="lock-c" class="blue"><use href="#lock" x="1809" y="1107" width="102" height="149"/></g>
<g id="lock-open"><path d="M351 799C351 786 360 779 370 779C385 779 393 790 393 805V820" fill="none" stroke="#5d5f5e" stroke-width="6"/><rect x="341" y="816" width="59" height="47" class="dark"/><circle cx="370" cy="835" r="5" fill="#fff"/><rect x="367.500" y="835" width="5" height="13" fill="#fff"/></g>
<g id="import-a" class="dark"><use href="#imp" x="1171" y="796" width="92" height="81"/></g>
<g id="import-b" class="dark"><use href="#imp" x="1423" y="1443" width="93" height="79"/></g>
<g id="export-a" class="dark"><use href="#imp" transform="rotate(180 286.500 1288.500)" x="240" y="1248" width="93" height="81"/></g>
<g id="export-b" class="gray"><use href="#imp" transform="rotate(180 943.500 1320)" x="897" y="1279" width="93" height="82"/></g>
<g id="export-c" class="dark"><use href="#imp" transform="rotate(180 2126.500 1252.500)" x="2080" y="1211" width="93" height="83"/></g>
<g id="gears-a" class="dark"><use href="#gear" x="1112" y="658" width="58" height="58"/><use href="#gear" x="1163" y="634" width="36" height="36"/><use href="#gear" x="1171" y="675" width="36" height="36"/></g>
<g id="gears-b" class="dark"><use href="#gear" x="2243" y="797" width="58" height="58"/><use href="#gear" x="2294" y="772" width="36" height="36"/><use href="#gear" x="2303" y="814" width="36" height="36"/></g>
<g id="gears-c" class="dark"><use href="#gear" x="1052" y="1209" width="58" height="58"/><use href="#gear" x="1102" y="1185" width="36" height="36"/><use href="#gear" x="1110" y="1226" width="36" height="36"/><use href="#gear" x="1128" y="1145" width="58" height="58"/><use href="#gear" x="1187" y="1144" width="58" height="58"/><use href="#gear" x="1129" y="1110" width="36" height="36"/><use href="#gear" x="1170" y="1115" width="36" height="36"/></g>
<g id="gears-d" class="dark"><use href="#gear" x="740" y="1447" width="58" height="58"/><use href="#gear" x="792" y="1423" width="36" height="36"/><use href="#gear" x="800" y="1463" width="36" height="36"/></g>
<g id="cloud-a" class="cl"><use href="#cloud" x="46" y="839" width="184" height="109"/></g>
<g id="cloud-b" class="cl"><use href="#cloud" x="104" y="911" width="177" height="107"/></g>
<g id="cloud-c" class="cl"><use href="#cloud" x="1393" y="985" width="178" height="107"/></g>
<g id="cloud-d" class="cl" style="stroke:#bfc0be;stroke-width:7"><use href="#cloud" x="1811" y="536" width="230" height="135"/></g>
<g id="cyl-small"><path d="M1972 644V665A33 12 0 0 0 2038 665V644Z" fill="#3391d4"/><ellipse cx="2005" cy="643" rx="33" ry="12" fill="#3391d4"/><path d="M1972 646A33 12 0 0 0 2038 646" fill="none" stroke="#fff" stroke-width="2.500"/><ellipse cx="2026" cy="661" rx="3.500" ry="4" fill="#fff"/></g>
<g id="folder-a" class="dark"><use href="#folder" x="90" y="1107" width="69" height="50"/></g>
<g id="folder-b" class="dark"><use href="#folder" x="111" y="1168" width="69" height="54"/></g>
<g id="folder-c"><polygon points="2190,610 2220,578 2238,571 2268,597 2248,625" fill="#fff" stroke="#8bbbe6" stroke-width="2"/><path d="M2205 590 2238 612M2212 584 2245 606M2222 579 2252 600" stroke="#9cc4e8" stroke-width="2"/><g class="blue"><use href="#folder" x="2161" y="615" width="90" height="68"/></g></g>
<g id="folder-d"><g class="blue"><use href="#folder" x="1310" y="1225" width="125" height="94"/></g><use href="#folder" x="1327" y="1248" width="120" height="91" fill="#fff" stroke="#6fb0e0" stroke-width="3"/></g>
<g id="folder-e"><use href="#folder" x="1249" y="1504" width="135" height="103" fill="#fff" stroke="#5d5f5e" stroke-width="4"/></g>
<g id="doc-a"><use href="#doc" x="823" y="567" width="70" height="94"/></g>
<g id="doc-b"><use href="#doc" x="1898" y="742" width="70" height="93"/></g>
<g id="docs-c"><use href="#doc" x="627" y="1202" width="70" height="95"/><use href="#doc" x="652" y="1224" width="70" height="94"/><use href="#doc" x="677" y="1248" width="70" height="94"/></g>
<g id="docs-d"><use href="#doc" x="1845" y="1425" width="70" height="91"/><use href="#doc" x="1880" y="1460" width="71" height="93"/></g>
<g id="box-a" class="gray"><use href="#box2" x="1620" y="973" width="135" height="43"/></g>
<g id="box-b" class="gray"><use href="#box2" x="1620" y="1026" width="135" height="43"/></g>
</svg>
